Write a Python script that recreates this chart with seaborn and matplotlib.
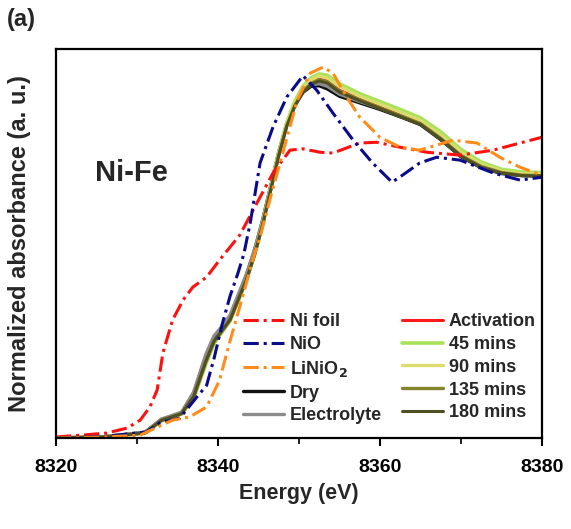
import numpy as np
import pandas as pd
import matplotlib
matplotlib.use("Agg")
import matplotlib.pyplot as plt
import seaborn as sns

# reference spectra (energy in eV, normalized absorbance)
ni_foil_e = [8320, 8323.2, 8326.3, 8328.8, 8330.4, 8331.6, 8332.5, 8333.2, 8334.4, 8335.7,
             8336.9, 8338.6, 8340.2, 8342.7, 8345.2, 8346.8, 8348.9, 8350.5, 8352.6, 8354.2,
             8357.5, 8359.6, 8362.5, 8365.8, 8369.9, 8374, 8377.3, 8380]
ni_foil_a = [0.004, 0.011, 0.019, 0.038, 0.068, 0.118, 0.183, 0.323, 0.449, 0.525,
             0.574, 0.612, 0.677, 0.772, 0.916, 1.008, 1.095, 1.100, 1.087, 1.084,
             1.122, 1.125, 1.106, 1.087, 1.076, 1.095, 1.122, 1.144]

nio_e = [8320, 8326, 8331.2, 8332.8, 8335.3, 8337.4, 8338.6, 8339.5, 8340.5, 8341.5,
         8342.5, 8343.2, 8344, 8345.2, 8346.8, 8348.5, 8350.5, 8352.2, 8354.2, 8356.7,
         8359.1, 8361.5, 8362.8, 8364.9, 8367, 8369.9, 8374, 8377.3, 8380]
nio_a = [0.0, 0.006, 0.023, 0.057, 0.076, 0.156, 0.200, 0.300, 0.430, 0.540,
         0.630, 0.700, 0.820, 1.046, 1.183, 1.297, 1.378, 1.323, 1.236, 1.133,
         1.046, 0.973, 1.000, 1.046, 1.068, 1.057, 1.008, 0.981, 0.992]

linio2_e = [8320, 8326, 8330.4, 8334.4, 8336.5, 8338.6, 8340.2, 8341.5, 8342.7, 8344.3,
            8345.2, 8346.4, 8348, 8349.8, 8351.4, 8353, 8354.2, 8355.9, 8357.5, 8360,
            8362.5, 8364.9, 8367, 8369, 8372, 8374.8, 8377.3, 8380]
linio2_a = [0.0, 0.004, 0.011, 0.068, 0.080, 0.118, 0.220, 0.370, 0.500, 0.677,
            0.764, 0.905, 1.084, 1.285, 1.388, 1.411, 1.388, 1.297, 1.221, 1.144,
            1.106, 1.095, 1.114, 1.133, 1.122, 1.068, 1.030, 1.000]

# electrode samples share one energy grid
sample_e = [8320, 8326, 8331, 8333, 8335.5, 8337, 8338.5, 8339.5, 8340.5, 8341.5,
            8342.5, 8343.5, 8344.5, 8345.5, 8346.5, 8347.5, 8348.5, 8349.5, 8350.5, 8351.5,
            8352.5, 8353.5, 8355, 8357.5, 8360, 8362.5, 8365, 8367.5, 8370, 8372.5,
            8375, 8377.5, 8380]
dry_a = [0.0, 0.005, 0.022, 0.070, 0.095, 0.170, 0.310, 0.380, 0.418, 0.462,
         0.540, 0.618, 0.712, 0.825, 0.955, 1.085, 1.195, 1.268, 1.315, 1.338,
         1.340, 1.328, 1.300, 1.275, 1.250, 1.222, 1.192, 1.135, 1.070, 1.028,
         1.006, 0.998, 0.996]
electrolyte_a = [0.0, 0.005, 0.022, 0.072, 0.098, 0.175, 0.318, 0.388, 0.425, 0.468,
                 0.545, 0.622, 0.715, 0.828, 0.958, 1.088, 1.198, 1.272, 1.320, 1.343,
                 1.348, 1.338, 1.308, 1.280, 1.254, 1.225, 1.195, 1.138, 1.073, 1.031,
                 1.008, 1.000, 0.998]
activation_a = [0.0, 0.004, 0.019, 0.065, 0.091, 0.156, 0.289, 0.365, 0.407, 0.449,
                0.525, 0.601, 0.696, 0.810, 0.943, 1.076, 1.190, 1.266, 1.319, 1.350,
                1.365, 1.357, 1.323, 1.289, 1.259, 1.228, 1.198, 1.141, 1.076, 1.034,
                1.011, 1.000, 1.000]
min45_a = [0.0, 0.004, 0.019, 0.065, 0.091, 0.150, 0.280, 0.358, 0.402, 0.445,
           0.520, 0.598, 0.695, 0.812, 0.948, 1.085, 1.200, 1.282, 1.338, 1.370,
           1.385, 1.380, 1.348, 1.310, 1.280, 1.250, 1.218, 1.165, 1.098, 1.050,
           1.022, 1.012, 1.010]
min90_a = [0.0, 0.004, 0.019, 0.065, 0.092, 0.153, 0.285, 0.362, 0.405, 0.447,
           0.523, 0.600, 0.696, 0.811, 0.946, 1.080, 1.195, 1.275, 1.330, 1.362,
           1.377, 1.370, 1.338, 1.300, 1.270, 1.240, 1.208, 1.153, 1.088, 1.042,
           1.016, 1.006, 1.005]
min135_a = [0.0, 0.004, 0.019, 0.066, 0.092, 0.155, 0.288, 0.364, 0.406, 0.448,
            0.524, 0.600, 0.695, 0.809, 0.942, 1.075, 1.188, 1.265, 1.318, 1.349,
            1.363, 1.355, 1.320, 1.286, 1.256, 1.226, 1.196, 1.140, 1.075, 1.033,
            1.010, 1.000, 0.998]
min180_a = [0.0, 0.004, 0.020, 0.067, 0.093, 0.158, 0.292, 0.368, 0.409, 0.450,
            0.526, 0.601, 0.695, 0.808, 0.940, 1.072, 1.185, 1.262, 1.314, 1.345,
            1.358, 1.350, 1.316, 1.283, 1.253, 1.223, 1.193, 1.137, 1.072, 1.030,
            1.008, 0.998, 0.997]

ref_labels = ['Ni foil', 'NiO', 'LiNiO$_2$']
sample_labels = ['Dry', 'Electrolyte', 'Activation', '45 mins', '90 mins', '135 mins', '180 mins']

sns.set_style("white")
plt.rcParams['font.family'] = ['Liberation Sans', 'DejaVu Sans']
plt.rcParams['font.weight'] = 'bold'
plt.rcParams['mathtext.default'] = 'bf'

fig = plt.figure(figsize=(5.71, 5.29), dpi=100)
ax = fig.add_axes([0.098, 0.172, 0.851, 0.735])

dashdot = (0, (5, 1.6, 1, 1.6))

samples = [
    (dry_a, 'Dry', '#111111', 2.4),
    (electrolyte_a, 'Electrolyte', '#8c8c8c', 2.4),
    (activation_a, 'Activation', '#ff1a1a', 2.2),
    (min45_a, '45 mins', '#a6e35a', 2.6),
    (min90_a, '90 mins', '#dcdc6e', 2.4),
    (min135_a, '135 mins', '#84842a', 2.4),
    (min180_a, '180 mins', '#4f4f22', 2.2),
]
for vals, lab, col, lw in samples:
    sns.lineplot(x=sample_e, y=vals, ax=ax, color=col, lw=lw, label=lab)

refs = [
    (ni_foil_e, ni_foil_a, 'Ni foil', '#ff1010'),
    (nio_e, nio_a, 'NiO', '#0a0a8c'),
    (linio2_e, linio2_a, 'LiNiO$_2$', '#ff8c1a'),
]
for xs, ys, lab, col in refs:
    sns.lineplot(x=xs, y=ys, ax=ax, color=col, lw=2.2, linestyle=dashdot, label=lab)

handles, labels = ax.get_legend_handles_labels()
lookup = dict(zip(labels, handles))
order = ref_labels + sample_labels
ax.legend([lookup[k] for k in order], order, ncol=2, frameon=False,
          loc='upper left', bbox_to_anchor=(0.425, 0.408), bbox_transform=fig.transFigure,
          borderpad=0, borderaxespad=0, handlelength=2.3, handletextpad=0.3,
          columnspacing=1.1, labelspacing=0.32,
          prop={'size': 13, 'weight': 'bold'})

ax.set_xlim(8320, 8380)
ax.set_ylim(0, 1.479)
ax.set_xticks([8320, 8340, 8360, 8380])
ax.set_xticks([8330, 8350, 8370], minor=True)
ax.set_yticks([])
ax.tick_params(axis='x', which='major', direction='out', length=6, width=1.5,
               bottom=True, top=False, pad=9, labelsize=14, colors='black')
ax.tick_params(axis='x', which='minor', direction='out', length=4.5, width=1.5,
               bottom=True, top=False)
for lbl in ax.get_xticklabels():
    lbl.set_fontweight('bold')
for sp in ax.spines.values():
    sp.set_color('black')
    sp.set_linewidth(1.6)

ax.set_xlabel('Energy (eV)', fontsize=15.5, fontweight='bold', labelpad=5)
ax.set_ylabel('Normalized absorbance (a. u.)', fontsize=17, fontweight='bold', labelpad=18)

ax.text(0.080, 0.681, 'Ni-Fe', transform=ax.transAxes, fontsize=21, fontweight='bold',
        ha='left', va='center')
fig.text(0.012, 0.964, '(a)', fontsize=17, fontweight='bold', ha='left', va='center')

fig.savefig('out.png', dpi=100)
